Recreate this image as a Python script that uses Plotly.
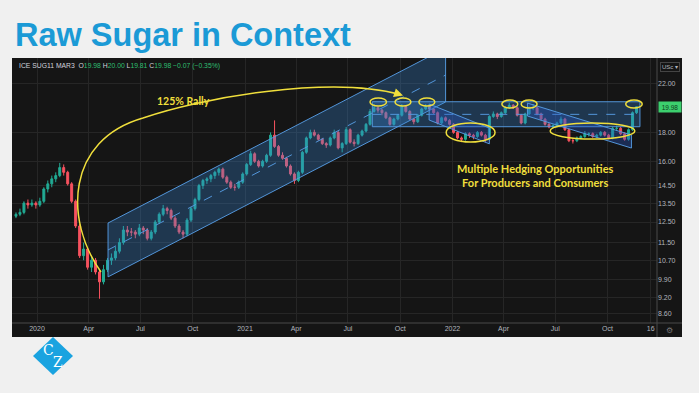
import math
import pandas as pd
import plotly.graph_objects as go

# ---------------- data (weekly candles) ----------------
week0 = "2019-11-25"
opens = [12.8, 12.9, 13.0, 13.5, 13.4, 13.5, 13.4, 13.6, 14.3, 14.6,
         14.9, 15.1, 15.6, 15.3, 14.6, 13.6, 12.3, 10.9, 11.2, 10.4,
         10.7, 10.2, 9.8, 10.3, 10.7, 10.8, 11.1, 11.5, 12.1, 12.0,
         12.0, 11.9, 12.2, 12.1, 11.7, 12.0, 12.5, 12.9, 13.2, 13.1,
         12.7, 12.3, 12.0, 11.9, 12.6, 13.2, 13.7, 14.5, 14.8, 14.9,
         15.1, 15.3, 15.5, 15.0, 14.7, 14.4, 14.4, 14.7, 15.2, 15.8,
         16.5, 16.0, 15.7, 16.0, 16.4, 17.8, 17.0, 16.4, 16.2, 15.7,
         15.2, 14.8, 15.3, 16.6, 17.6, 18.0, 17.8, 17.5, 17.2, 17.1,
         17.6, 18.0, 16.9, 17.2, 18.2, 17.3, 17.2, 17.8, 18.1, 18.6,
         19.6, 19.9, 19.7, 19.5, 19.1, 18.6, 19.0, 19.3, 20.0, 19.6,
         19.0, 18.8, 19.3, 19.8, 20.0, 19.8, 19.5, 18.7, 19.1, 18.9,
         18.6, 18.0, 17.6, 17.5, 17.9, 17.8, 17.7, 18.0, 17.8, 17.5,
         19.2, 19.4, 19.2, 19.5, 19.9, 20.1, 19.9, 19.3, 18.7, 19.4,
         19.9, 19.9, 19.4, 19.0, 18.6, 18.4, 18.5, 18.7, 19.0, 18.2,
         17.4, 17.4, 17.6, 17.7, 17.9, 17.9, 17.7, 17.8, 18.0, 17.8,
         17.6, 18.3, 18.3, 17.9, 17.5, 18.2, 19.5]
highs = [13.0, 13.2, 13.6, 13.7, 13.7, 13.6, 13.8, 14.4, 14.8, 15.1,
         15.3, 15.9, 15.8, 15.4, 14.7, 13.7, 12.4, 11.5, 11.3, 10.9,
         10.8, 10.3, 10.5, 10.8, 11.0, 11.3, 11.7, 12.3, 12.3, 12.2,
         12.1, 12.4, 12.3, 12.2, 12.1, 12.6, 13.0, 13.4, 13.3, 13.2,
         12.8, 12.4, 12.1, 12.7, 13.3, 13.8, 14.6, 14.9, 15.0, 15.2,
         15.4, 15.6, 15.6, 15.1, 14.8, 14.6, 14.8, 15.3, 15.9, 16.7,
         16.6, 16.1, 16.1, 16.5, 18.0, 18.9, 17.1, 16.6, 16.3, 15.8,
         15.3, 15.4, 16.7, 17.7, 18.2, 18.2, 17.9, 17.6, 17.3, 17.7,
         18.2, 18.1, 17.3, 18.4, 18.3, 17.5, 17.9, 18.2, 18.7, 19.8,
         20.2, 20.0, 19.8, 19.6, 19.2, 19.1, 19.4, 20.2, 20.1, 19.7,
         19.1, 19.4, 19.9, 20.2, 20.1, 19.9, 19.6, 19.2, 19.2, 19.0,
         18.7, 18.1, 17.7, 18.0, 18.0, 17.9, 18.1, 18.1, 17.9, 19.3,
         19.6, 19.5, 19.6, 20.0, 20.3, 20.2, 20.0, 19.4, 19.5, 20.0,
         20.2, 20.0, 19.5, 19.1, 18.7, 18.6, 18.8, 19.2, 19.1, 18.3,
         17.6, 17.7, 17.8, 18.1, 18.0, 18.0, 17.9, 18.1, 18.1, 17.9,
         18.4, 18.5, 18.4, 18.0, 18.3, 19.6, 20.0]
lows = [12.7, 12.8, 12.9, 13.2, 13.3, 13.2, 13.3, 13.5, 14.1, 14.4,
        14.7, 15.0, 15.1, 14.5, 13.5, 12.2, 10.8, 10.7, 10.3, 10.2,
        10.1, 9.15, 9.7, 10.2, 10.5, 10.7, 11.0, 11.4, 11.8, 11.8,
        11.7, 11.8, 11.9, 11.6, 11.6, 11.9, 12.4, 12.8, 12.9, 12.6,
        12.2, 11.9, 11.7, 11.8, 12.5, 13.1, 13.6, 14.3, 14.6, 14.7,
        14.9, 15.1, 14.9, 14.6, 14.3, 14.2, 14.3, 14.6, 15.1, 15.7,
        15.9, 15.6, 15.6, 15.9, 16.3, 16.9, 16.3, 16.1, 15.6, 15.1,
        14.6, 14.7, 15.2, 16.5, 17.5, 17.7, 17.4, 17.1, 16.9, 17.0,
        17.5, 16.8, 16.6, 17.1, 17.2, 17.0, 17.1, 17.7, 18.0, 18.5,
        19.5, 19.5, 19.3, 19.0, 18.5, 18.5, 18.9, 19.2, 19.5, 18.9,
        18.6, 18.7, 19.2, 19.7, 19.7, 19.4, 18.6, 18.6, 18.8, 18.5,
        17.9, 17.5, 17.3, 17.4, 17.6, 17.5, 17.6, 17.7, 17.3, 17.4,
        19.1, 19.0, 19.1, 19.4, 19.8, 19.8, 19.2, 18.6, 18.6, 19.3,
        19.7, 19.3, 18.9, 18.5, 18.3, 18.3, 18.4, 18.6, 18.1, 17.3,
        17.2, 17.3, 17.5, 17.6, 17.7, 17.6, 17.6, 17.7, 17.7, 17.5,
        17.5, 18.1, 17.8, 17.4, 17.4, 18.1, 19.4]
closes = [12.9, 13.0, 13.5, 13.4, 13.5, 13.4, 13.6, 14.3, 14.6, 14.9,
          15.1, 15.6, 15.3, 14.6, 13.6, 12.3, 10.9, 11.2, 10.4, 10.7,
          10.2, 9.8, 10.3, 10.7, 10.8, 11.1, 11.5, 12.1, 12.0, 12.0,
          11.9, 12.2, 12.1, 11.7, 12.0, 12.5, 12.9, 13.2, 13.1, 12.7,
          12.3, 12.0, 11.9, 12.6, 13.2, 13.7, 14.5, 14.8, 14.9, 15.1,
          15.3, 15.5, 15.0, 14.7, 14.4, 14.4, 14.7, 15.2, 15.8, 16.5,
          16.0, 15.7, 16.0, 16.4, 17.8, 17.0, 16.4, 16.2, 15.7, 15.2,
          14.8, 15.3, 16.6, 17.6, 18.0, 17.8, 17.5, 17.2, 17.1, 17.6,
          18.0, 16.9, 17.2, 18.2, 17.3, 17.2, 17.8, 18.1, 18.6, 19.6,
          19.9, 19.7, 19.5, 19.1, 18.6, 19.0, 19.3, 20.0, 19.6, 19.0,
          18.8, 19.3, 19.8, 20.0, 19.8, 19.5, 18.7, 19.1, 18.9, 18.6,
          18.0, 17.6, 17.5, 17.9, 17.8, 17.7, 18.0, 17.8, 17.5, 19.2,
          19.4, 19.2, 19.5, 19.9, 20.1, 19.9, 19.3, 18.7, 19.4, 19.9,
          19.9, 19.4, 19.0, 18.6, 18.4, 18.5, 18.7, 19.0, 18.2, 17.4,
          17.4, 17.6, 17.7, 17.9, 17.9, 17.7, 17.8, 18.0, 17.8, 17.6,
          18.3, 18.3, 17.9, 17.5, 18.2, 19.5, 19.98]
dates = pd.date_range(week0, periods=len(closes), freq="7D")

last_price = 19.98
y_ticks = [22, 18, 16, 14.5, 13.5, 12.5, 11.5, 10.7, 9.9, 9.2, 8.6]
y_ticktext = ["22.00", "18.00", "16.00", "14.50", "13.50", "12.50",
              "11.50", "10.70", "9.90", "9.20", "8.60"]
x_tickvals = ["2020-01-01", "2020-04-01", "2020-07-01", "2020-10-01",
              "2021-01-01", "2021-04-01", "2021-07-01", "2021-10-01",
              "2022-01-01", "2022-04-01", "2022-07-01", "2022-10-01",
              "2022-12-16"]
x_ticktext = ["2020", "Apr", "Jul", "Oct", "2021", "Apr", "Jul", "Oct",
              "2022", "Apr", "Jul", "Oct", "16"]
x_range = ["2019-11-18", "2022-12-27"]
y_range = [8.29, 24.36]

# drawing tools (dates, prices)
rise_dates = ["2020-05-05", "2021-12-20"]
rise_low = [10.0, 20.37]
rise_high = [12.45, 25.36]
box_dates = ["2021-08-13", "2022-11-27"]
box_prices = [18.42, 19.37, 20.39]
fall1_dates = ["2021-11-21", "2022-03-07"]
fall1_high = [20.20, 18.32]
fall1_low = [18.93, 17.18]
fall2_dates = ["2022-05-13", "2022-11-12"]
fall2_high = [20.28, 17.81]
fall2_low = [19.24, 16.89]
small_ellipses = [("2021-08-09", "2021-09-07", 20.04, 20.70),
                  ("2021-09-22", "2021-10-20", 20.04, 20.70),
                  ("2021-11-03", "2021-12-01", 20.04, 20.70),
                  ("2022-03-29", "2022-04-26", 19.87, 20.53),
                  ("2022-05-02", "2022-05-30", 19.87, 20.53),
                  ("2022-11-02", "2022-12-01", 19.87, 20.53)]
big_ellipses = [("2021-12-21", "2022-03-17", 17.31, 18.70),
                ("2022-06-22", "2022-11-18", 17.52, 18.70)]

# ---------------- layout helpers ----------------
W, H = 699, 393
ML, MR, MT, MB = 12, 42, 58, 70
PW, PH = W - ML - MR, H - MT - MB


def px(x):
    return (x - ML) / PW


def py(y):
    return (H - MB - y) / PH


BG = "#151515"
GRID = "#262626"
SEP = "#4a4a4a"
TXT = "#b2b5be"
YEL = "#f0df3c"
CH_FILL = "rgba(55,135,215,0.30)"
CH_LINE = "rgba(85,155,225,0.95)"

fig = go.Figure()
fig.add_trace(go.Candlestick(
    x=dates, open=opens, high=highs, low=lows, close=closes,
    increasing=dict(line=dict(color="#22ab94", width=1), fillcolor="#22ab94"),
    decreasing=dict(line=dict(color="#f7525f", width=1), fillcolor="#f7525f"),
    whiskerwidth=0, showlegend=False, hoverinfo="skip"))

shapes = []
# dark panel
shapes.append(dict(type="rect", xref="paper", yref="paper", x0=px(12), x1=px(682),
                   y0=py(337), y1=py(58), fillcolor=BG, line=dict(width=0), layer="below"))
# separators
shapes.append(dict(type="line", xref="paper", yref="paper", x0=px(657), x1=px(657),
                   y0=py(337), y1=py(58), line=dict(color=SEP, width=1)))
shapes.append(dict(type="line", xref="paper", yref="paper", x0=px(12), x1=px(682),
                   y0=py(323), y1=py(323), line=dict(color=SEP, width=1)))


def poly(xs, ys):
    s = "M " + " L ".join(f"{x},{y}" for x, y in zip(xs, ys)) + " Z"
    return s


# rising channel
shapes.append(dict(type="path", xref="x", yref="y",
                   path=poly([rise_dates[0], rise_dates[1], rise_dates[1], rise_dates[0]],
                             [rise_low[0], rise_low[1], rise_high[1], rise_high[0]]),
                   fillcolor=CH_FILL, line=dict(color=CH_LINE, width=1)))
shapes.append(dict(type="line", xref="x", yref="y", x0=rise_dates[0], x1=rise_dates[1],
                   y0=math.sqrt(rise_low[0] * rise_high[0]), y1=math.sqrt(rise_low[1] * rise_high[1]),
                   line=dict(color=CH_LINE, width=1, dash="dash")))
# horizontal range box
shapes.append(dict(type="rect", xref="x", yref="y", x0=box_dates[0], x1=box_dates[1],
                   y0=box_prices[0], y1=box_prices[2], fillcolor=CH_FILL,
                   line=dict(color=CH_LINE, width=1)))
shapes.append(dict(type="line", xref="x", yref="y", x0=box_dates[0], x1=box_dates[1],
                   y0=box_prices[1], y1=box_prices[1],
                   line=dict(color=CH_LINE, width=1, dash="dash")))
# falling channels
for dts, hi, lo in [(fall1_dates, fall1_high, fall1_low), (fall2_dates, fall2_high, fall2_low)]:
    shapes.append(dict(type="path", xref="x", yref="y",
                       path=poly([dts[0], dts[1], dts[1], dts[0]], [hi[0], hi[1], lo[1], lo[0]]),
                       fillcolor="rgba(40,90,200,0.35)", line=dict(color=CH_LINE, width=1)))
# ellipses
for x0, x1, y0, y1 in small_ellipses + big_ellipses:
    shapes.append(dict(type="circle", xref="x", yref="y", x0=x0, x1=x1, y0=y0, y1=y1,
                       line=dict(color=YEL, width=1.5)))

# rally curve (paper coords)
pts = [(101, 272), (64, 220), (66, 140), (143, 118), (200, 98), (330, 75), (400, 94.5)]
P = [(px(a), py(b)) for a, b in pts]
curve = (f"M {P[0][0]},{P[0][1]} C {P[1][0]},{P[1][1]} {P[2][0]},{P[2][1]} {P[3][0]},{P[3][1]} "
         f"C {P[4][0]},{P[4][1]} {P[5][0]},{P[5][1]} {P[6][0]},{P[6][1]}")
shapes.append(dict(type="path", xref="paper", yref="paper", path=curve,
                   line=dict(color=YEL, width=1.5)))

# logo diamond
dpts = [(53, 337), (73, 356), (53, 375), (33, 356)]
shapes.append(dict(type="path", xref="paper", yref="paper",
                   path=poly([px(a) for a, b in dpts], [py(b) for a, b in dpts]),
                   fillcolor="#1aa3e0", line=dict(width=0)))

ann = []
ann.append(dict(text="<b>Raw Sugar in Context</b>", xref="paper", yref="paper",
                x=px(13), y=py(35), xanchor="left", yanchor="middle", showarrow=False,
                font=dict(family="Liberation Sans, Arial", size=32.5, color="#1b9ad6")))
G = "#2fbf71"
hdr = (f"<span style='color:#d1d4dc'>ICE SUG11 MAR3</span>  "
       f"<span style='color:#d1d4dc'>O</span><span style='color:{G}'>19.98</span> "
       f"<span style='color:#d1d4dc'>H</span><span style='color:{G}'>20.00</span> "
       f"<span style='color:#d1d4dc'>L</span><span style='color:{G}'>19.81</span> "
       f"<span style='color:#d1d4dc'>C</span><span style='color:{G}'>19.98</span> "
       f"<span style='color:{G}'>−0.07 (−0.35%)</span>")
ann.append(dict(text=hdr, xref="paper", yref="paper", x=px(17), y=py(66),
                xanchor="left", yanchor="middle", showarrow=False,
                font=dict(family="Liberation Sans, Arial", size=6.8)))
ann.append(dict(text="<b>125% Rally</b>", xref="paper", yref="paper", x=px(183), y=py(101),
                xanchor="center", yanchor="middle", showarrow=False,
                font=dict(family="Lato", size=10.5, color=YEL)))
ann.append(dict(text="<b>Multiple Hedging Opportunities</b><br><b>For Producers and Consumers</b>",
                xref="paper", yref="paper", x=px(535), y=py(175),
                xanchor="center", yanchor="middle", showarrow=False,
                font=dict(family="Lato", size=11, color=YEL)))
# arrow head on the rally curve
ann.append(dict(text="", xref="paper", yref="paper", x=px(403), y=py(95.5),
                ax=-9, ay=-3, showarrow=True, arrowhead=2, arrowsize=1.2,
                arrowwidth=1.5, arrowcolor=YEL))
# last price tag
ann.append(dict(text=f"{last_price:.2f}", xref="paper", yref="y", x=px(658),
                y=math.log10(last_price), xanchor="left", yanchor="middle", showarrow=False,
                bgcolor="#3ccf6e", width=20, height=8, borderpad=1,
                font=dict(family="Liberation Sans, Arial", size=6.5, color="#0e3b1c")))
ann.append(dict(text="USc ▾", xref="paper", yref="paper", x=px(670), y=py(66.5),
                xanchor="center", yanchor="middle", showarrow=False,
                bordercolor="#444", borderwidth=1, borderpad=1,
                font=dict(family="Liberation Sans, Arial", size=6, color=TXT)))
ann.append(dict(text="⚙", xref="paper", yref="paper", x=px(670), y=py(330),
                xanchor="center", yanchor="middle", showarrow=False,
                font=dict(family="DejaVu Sans", size=8, color="#777")))
ann.append(dict(text="C", xref="paper", yref="paper", x=px(48), y=py(350),
                xanchor="center", yanchor="middle", showarrow=False,
                font=dict(family="DejaVu Serif", size=14, color="white")))
ann.append(dict(text="Z", xref="paper", yref="paper", x=px(58), y=py(362),
                xanchor="center", yanchor="middle", showarrow=False,
                font=dict(family="DejaVu Serif", size=14, color="white")))

fig.update_layout(
    width=W, height=H, autosize=False,
    margin=dict(l=ML, r=MR, t=MT, b=MB, pad=0),
    paper_bgcolor="#f0f0f0", plot_bgcolor=BG,
    shapes=shapes, annotations=ann, showlegend=False,
    xaxis=dict(type="date", range=x_range, tickvals=x_tickvals, ticktext=x_ticktext,
               gridcolor=GRID, gridwidth=1, showline=False, zeroline=False,
               rangeslider=dict(visible=False), ticks="",
               tickfont=dict(family="Liberation Sans, Arial", size=7, color=TXT)),
    yaxis=dict(type="log", range=[math.log10(y_range[0]), math.log10(y_range[1])],
               side="right", tickvals=y_ticks, ticktext=y_ticktext,
               gridcolor=GRID, gridwidth=1, showline=False, zeroline=False, ticks="",
               tickfont=dict(family="Liberation Sans, Arial", size=7, color=TXT)),
)

fig.write_html("out.html", config={"displayModeBar": False},
               post_script="document.body.style.margin='0';document.body.style.overflow='hidden';")
